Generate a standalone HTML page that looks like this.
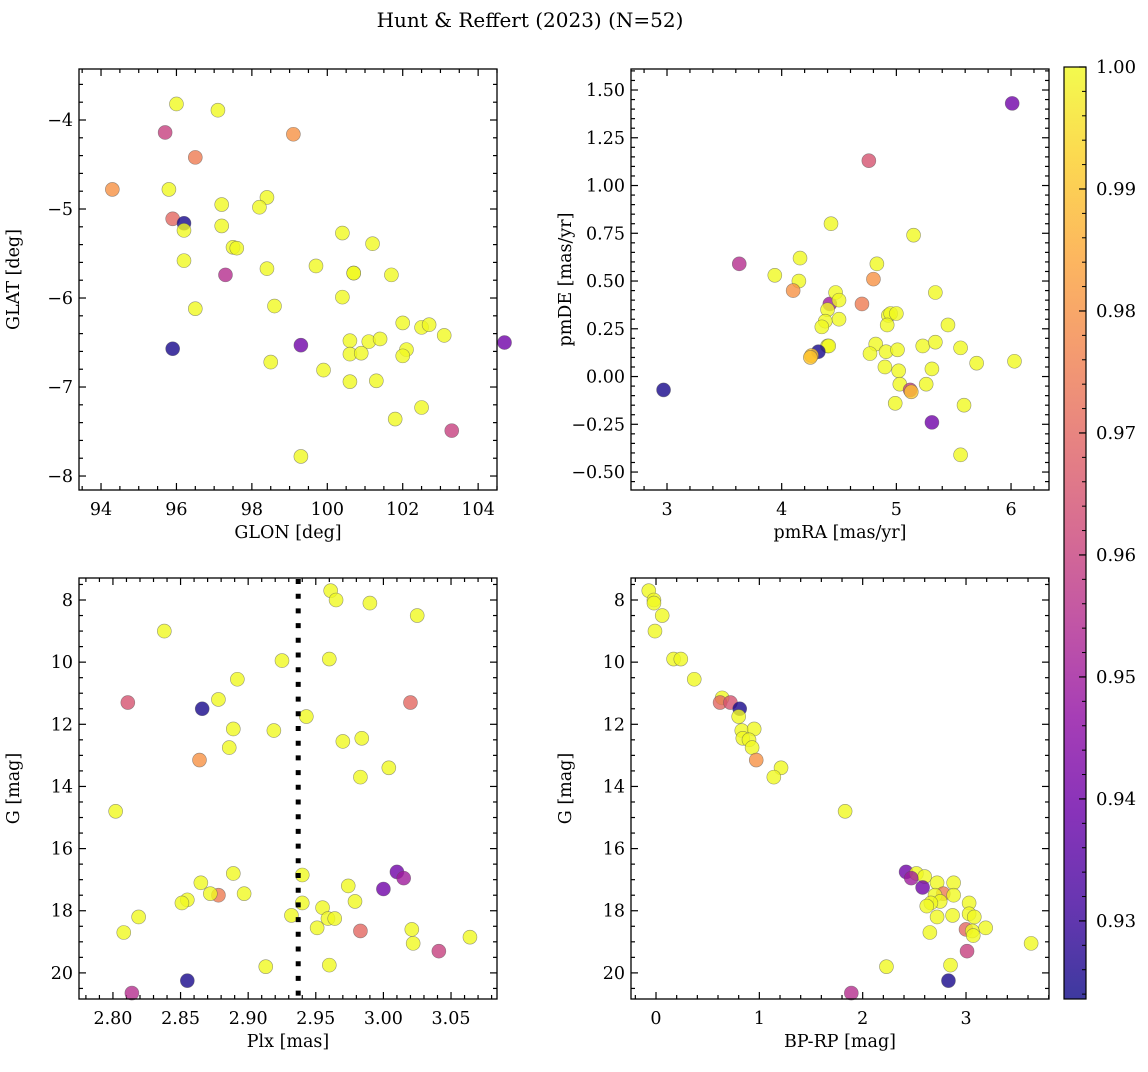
<!DOCTYPE html>
<html><head><meta charset="utf-8"><style>
body{margin:0;background:#fff}
svg text{font-family:"DejaVu Serif","Liberation Serif",serif;fill:#000}
</style></head><body>
<svg id="fig" width="1148" height="1067" viewBox="0 0 1148 1067" xmlns="http://www.w3.org/2000/svg">
<defs><linearGradient id="cbg" x1="0" y1="1" x2="0" y2="0">
<stop offset="0" stop-color="#0d0887"/><stop offset="0.1" stop-color="#41049d"/><stop offset="0.2" stop-color="#6a00a8"/><stop offset="0.3" stop-color="#8f0da4"/><stop offset="0.4" stop-color="#b12a90"/><stop offset="0.5" stop-color="#cc4778"/><stop offset="0.6" stop-color="#e16462"/><stop offset="0.7" stop-color="#f2844b"/><stop offset="0.8" stop-color="#fca636"/><stop offset="0.9" stop-color="#fcce25"/><stop offset="1" stop-color="#f0f921"/>
</linearGradient></defs>
<text x="530" y="27" font-size="20" text-anchor="middle">Hunt &amp; Reffert (2023) (N=52)</text>
</svg>
<script>
// ---- data ----
const p1Glon=[95.7,96.0,97.1,99.1,96.5,94.3,95.8,97.2,98.4,98.2,95.9,96.2,96.2,97.2,97.5,97.6,96.2,97.3,98.4,99.7,100.4,101.2,100.7,100.7,101.7,96.5,98.6,100.4,95.9,99.3,104.7,98.5,99.9,100.6,100.6,100.9,101.1,101.4,102.0,102.5,102.7,103.1,102.1,102.0,100.6,101.3,101.8,102.5,103.3,99.3];
const p1Glat=[-4.14,-3.82,-3.89,-4.16,-4.42,-4.78,-4.78,-4.95,-4.87,-4.98,-5.11,-5.16,-5.24,-5.19,-5.43,-5.44,-5.58,-5.74,-5.67,-5.64,-5.27,-5.39,-5.72,-5.72,-5.74,-6.12,-6.09,-5.99,-6.57,-6.53,-6.50,-6.72,-6.81,-6.48,-6.63,-6.62,-6.49,-6.46,-6.28,-6.33,-6.30,-6.42,-6.58,-6.65,-6.94,-6.93,-7.36,-7.23,-7.49,-7.78];
const p1Prob=[0.96,1,1,0.98,0.975,0.98,1,1,1,1,0.97,0.925,1,1,1,1,1,0.955,1,1,1,1,1,1,1,1,1,1,0.925,0.94,0.94,1,1,1,1,1,1,1,1,1,1,1,1,1,1,1,1,1,0.96,1];
const p2PmRA=[6.01,4.76,3.63,3.94,4.16,4.15,4.10,4.43,4.83,5.15,4.80,4.70,4.42,4.47,4.40,4.50,4.38,4.35,4.50,4.40,4.41,4.32,4.26,4.25,5.34,5.45,4.93,4.95,4.92,5.00,4.82,4.77,4.91,5.01,5.23,5.34,5.56,5.70,6.03,4.90,5.02,5.31,5.03,5.26,5.12,5.13,4.99,5.59,5.31,5.56,2.97];
const p2PmDE=[1.43,1.13,0.59,0.53,0.62,0.50,0.45,0.80,0.59,0.74,0.51,0.38,0.38,0.44,0.35,0.40,0.29,0.26,0.30,0.16,0.16,0.13,0.11,0.10,0.44,0.27,0.32,0.33,0.27,0.33,0.17,0.12,0.13,0.14,0.16,0.18,0.15,0.07,0.08,0.05,0.03,0.04,-0.04,-0.04,-0.07,-0.08,-0.14,-0.15,-0.24,-0.41,-0.07];
const p2Prob=[0.94,0.965,0.955,1,1,1,0.98,1,1,1,0.98,0.975,0.95,1,1,1,1,1,1,1,1,0.925,0.99,0.99,1,1,1,1,1,1,1,1,1,1,1,1,1,1,1,1,1,1,1,1,0.96,0.99,1,1,0.94,1,0.925];
const p3Plx=[2.961,2.965,2.990,3.025,2.838,2.925,2.960,2.892,2.878,2.811,3.020,2.866,2.943,2.889,2.919,2.984,2.970,2.886,2.864,3.004,2.983,2.802,2.940,2.889,3.010,3.015,3.000,2.974,2.865,2.878,2.872,2.897,2.855,2.851,2.940,2.955,2.979,2.932,2.959,2.964,2.819,2.951,3.021,2.808,2.983,3.064,3.022,3.041,2.913,2.960,2.855,2.814];
const p3G=[7.7,8.0,8.1,8.5,9.0,9.95,9.9,10.55,11.2,11.3,11.3,11.5,11.75,12.15,12.2,12.45,12.55,12.75,13.15,13.4,13.7,14.8,16.85,16.8,16.75,16.95,17.3,17.2,17.1,17.5,17.45,17.45,17.65,17.75,17.75,17.9,17.7,18.15,18.25,18.25,18.2,18.55,18.6,18.7,18.65,18.85,19.05,19.3,19.8,19.75,20.25,20.65];
const p3Prob=[1,1,1,1,1,1,1,1,1,0.965,0.97,0.925,1,1,1,1,1,1,0.98,1,1,1,1,1,0.94,0.95,0.94,1,1,0.975,1,1,1,1,1,1,1,1,1,1,1,1,1,1,0.97,1,1,0.96,1,1,0.925,0.955];
const p4BpRp=[-0.07,-0.02,-0.02,0.06,-0.01,0.17,0.24,0.37,0.64,0.62,0.72,0.81,0.80,0.83,0.95,0.84,0.90,0.93,0.97,1.21,1.14,1.83,2.42,2.52,2.60,2.47,2.58,2.72,2.88,2.78,2.70,2.88,2.75,2.66,2.62,2.72,2.87,3.03,3.03,3.08,3.19,3.00,3.06,3.07,2.65,3.63,3.01,2.23,2.85,2.83,1.89];
const p4G=[7.7,8.0,8.1,8.5,9.0,9.9,9.9,10.55,11.15,11.3,11.3,11.5,11.75,12.2,12.15,12.45,12.5,12.75,13.15,13.4,13.7,14.8,16.75,16.8,16.9,16.95,17.25,17.1,17.1,17.45,17.5,17.5,17.7,17.75,17.85,18.2,18.15,17.75,18.1,18.2,18.55,18.6,18.65,18.8,18.7,19.05,19.3,19.8,19.75,20.25,20.65];
const p4Prob=[1,1,1,1,1,1,1,1,1,0.97,0.965,0.925,1,1,1,1,1,1,0.98,1,1,1,0.94,1,1,0.95,0.94,1,1,0.975,1,1,1,1,1,1,1,1,1,1,1,0.97,1,1,1,1,0.96,1,1,0.925,0.955];
const cbTicks=[0.93,0.94,0.95,0.96,0.97,0.98,0.99,1.00];
const plxLine=2.937;
// ---- rendering ----
const NS='http://www.w3.org/2000/svg',svg=document.getElementById('fig');
const VMIN=0.9236,VMAX=1.0;
const stops=['#0d0887','#41049d','#6a00a8','#8f0da4','#b12a90','#cc4778','#e16462','#f2844b','#fca636','#fcce25','#f0f921'].map(h=>[1,3,5].map(i=>parseInt(h.substr(i,2),16)));
function cmap(v){let t=Math.max(0,Math.min(1,(v-VMIN)/(VMAX-VMIN)))*10;let i=Math.min(9,Math.floor(t)),f=t-i;const a=stops[i],b=stops[i+1];return 'rgb('+a.map((c,k)=>Math.round(c+(b[k]-c)*f)).join(',')+')';}
function mk(tag,at,parent){const e=document.createElementNS(NS,tag);for(const k in at)e.setAttribute(k,at[k]);(parent||svg).appendChild(e);return e;}
function panel(name,box,xr,yr,xMaj,xMin,yMaj,yMin,xd,yd,xs,ys,pr,xlab,ylab,inv){
  const g=mk('g',{});
  
  
  const [L,T,R,B]=box;
  const X=v=>L+(v-xr[0])/(xr[1]-xr[0])*(R-L);
  const Y=v=>inv?T+(v-yr[0])/(yr[1]-yr[0])*(B-T):B-(v-yr[0])/(yr[1]-yr[0])*(B-T);
  const eps=1e-9;
  for(let v=Math.ceil(xr[0]/xMin-eps)*xMin;v<=xr[1]+eps;v+=xMin){const x=X(v);const maj=Math.abs(v/xMaj-Math.round(v/xMaj))<1e-6;const l=maj?7:4;
    mk('line',{x1:x,x2:x,y1:B,y2:B-l,stroke:'#000','stroke-width':1.2},g);mk('line',{x1:x,x2:x,y1:T,y2:T+l,stroke:'#000','stroke-width':1.2},g);
    if(maj){const t=mk('text',{x:x,y:B+25,'font-size':17.5,'text-anchor':'middle'},g);t.textContent=(Math.abs(v)<1e-9?0:v).toFixed(xd).replace('-','−');}}
  for(let v=Math.ceil(yr[0]/yMin-eps)*yMin;v<=yr[1]+eps;v+=yMin){const y=Y(v);const maj=Math.abs(v/yMaj-Math.round(v/yMaj))<1e-6;const l=maj?7:4;
    mk('line',{x1:L,x2:L+l,y1:y,y2:y,stroke:'#000','stroke-width':1.2},g);mk('line',{x1:R,x2:R-l,y1:y,y2:y,stroke:'#000','stroke-width':1.2},g);
    if(maj){const t=mk('text',{x:L-6,y:y+6,'font-size':17.5,'text-anchor':'end'},g);t.textContent=(Math.abs(v)<1e-9?0:v).toFixed(yd).replace('-','−');}}
  for(let i=0;i<xs.length;i++){
    const c=mk('circle',{cx:X(xs[i]),cy:Y(ys[i]),r:7,fill:cmap(pr[i]),'fill-opacity':0.8,stroke:'#555','stroke-opacity':0.6,'stroke-width':0.6},g);
    
    
  }
  mk('rect',{x:L,y:T,width:R-L,height:B-T,fill:'none',stroke:'#000','stroke-width':1.3},g);
  const xl=mk('text',{x:(L+R)/2,y:B+48,'font-size':17.5,'text-anchor':'middle'},g);xl.textContent=xlab;
  
  
  const yl=mk('text',{x:0,y:0,'font-size':17.5,'text-anchor':'middle',transform:'translate('+(L-60)+','+(T+B)/2+') rotate(-90)'},g);yl.textContent=ylab;
  
  
  return {X,Y,g};
}
panel('glon-glat-panel',[79,69,497,490],[93.416,104.5],[-8.157,-3.427],2,0.5,1,0.2,0,0,p1Glon,p1Glat,p1Prob,'GLON [deg]','GLAT [deg]',false);
panel('pm-panel',[631,69,1049,490],[2.686,6.331],[-0.594,1.61],1,0.2,0.25,0.05,0,2,p2PmRA,p2PmDE,p2Prob,'pmRA [mas/yr]','pmDE [mas/yr]',false);
const p3=panel('plx-g-panel',[79,578,497,999],[2.7749,3.084],[7.292,20.84],0.05,0.01,2,0.5,2,0,p3Plx,p3G,p3Prob,'Plx [mas]','G [mag]',true);
const dl=mk('line',{x1:p3.X(plxLine),x2:p3.X(plxLine),y1:579,y2:998,stroke:'#000','stroke-width':5,'stroke-dasharray':'5 9.7'},p3.g);


panel('cmd-panel',[631,578,1049,999],[-0.242,3.803],[7.292,20.84],1,0.2,2,0.5,0,0,p4BpRp,p4G,p4Prob,'BP-RP [mag]','G [mag]',true);
// colorbar
const cb=mk('g',{});


const CT=67,CB=999,CL=1064,CR=1086;
const CY=v=>CB-(v-VMIN)/(VMAX-VMIN)*(CB-CT);
mk('rect',{x:CL,y:CT,width:CR-CL,height:CB-CT,fill:'url(#cbg)','fill-opacity':0.8},cb);
mk('rect',{x:CL,y:CT,width:CR-CL,height:CB-CT,fill:'none',stroke:'#000','stroke-width':1.2},cb);
for(let v=0.924;v<=1.0001;v+=0.002){mk('line',{x1:CR,x2:CR-4,y1:CY(v),y2:CY(v),stroke:'#000','stroke-width':1},cb);}
cbTicks.forEach(v=>{const y=CY(v);mk('line',{x1:CR,x2:CR-7,y1:y,y2:y,stroke:'#000','stroke-width':1.2},cb);
  const t=mk('text',{x:CR+10,y:y+6,'font-size':18},cb);t.textContent=v.toFixed(2);
  
  });
</script>
</body></html>
